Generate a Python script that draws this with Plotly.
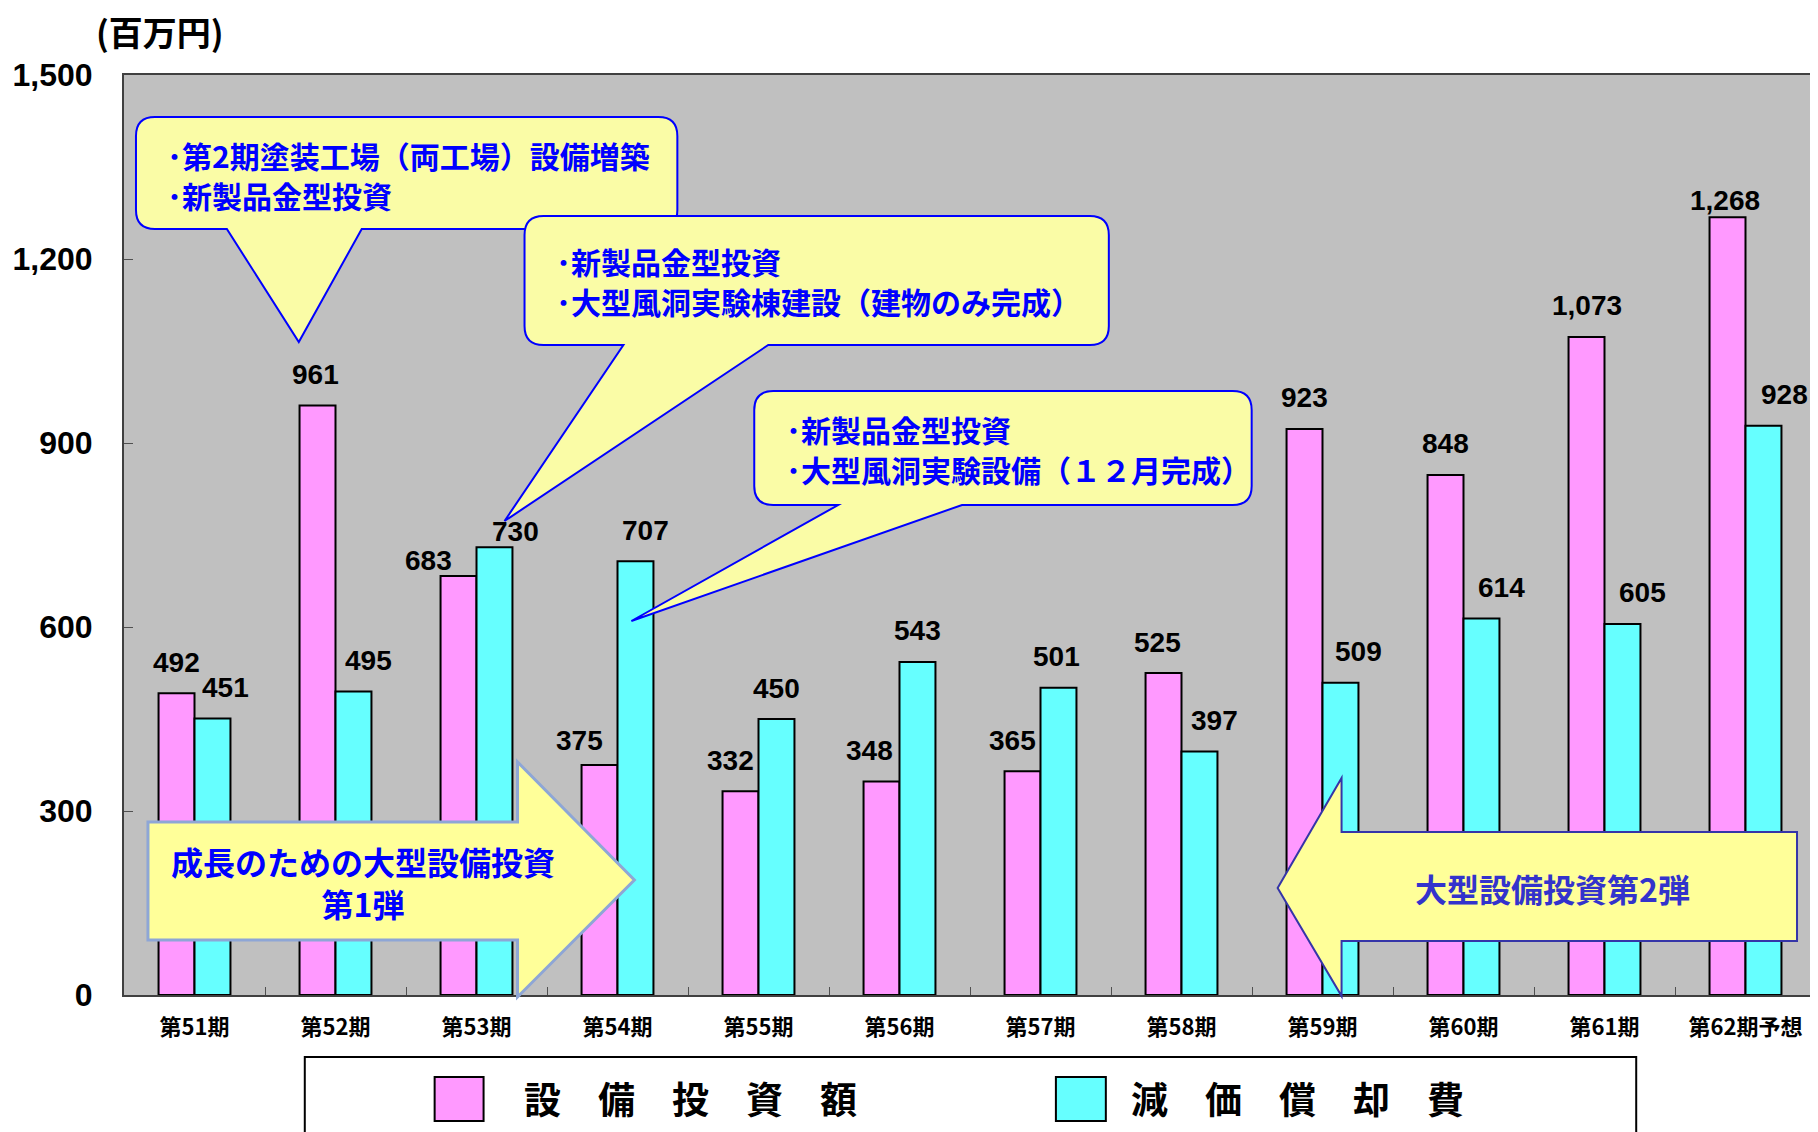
import plotly.graph_objects as go

# ---------------- data ----------------
categories = ["第51期", "第52期", "第53期", "第54期", "第55期", "第56期",
              "第57期", "第58期", "第59期", "第60期", "第61期", "第62期予想"]
capex = [492, 961, 683, 375, 332, 348, 365, 525, 923, 848, 1073, 1268]
depreciation = [451, 495, 730, 707, 450, 543, 501, 397, 509, 614, 605, 928]
series_names = ["設備投資額", "減価償却費"]
y_ticks = [0, 300, 600, 900, 1200, 1500]
unit_label = "(百万円)"

callout1_lines = ["･第2期塗装工場（両工場）設備増築", "･新製品金型投資"]
callout2_lines = ["･新製品金型投資", "･大型風洞実験棟建設（建物のみ完成）"]
callout3_lines = ["･新製品金型投資", "･大型風洞実験設備（１２月完成）"]
arrow1_lines = ["成長のための大型設備投資", "第1弾"]
arrow2_text = "大型設備投資第2弾"

# ---------------- style ----------------
PINK = "#FF99FF"
CYAN = "#66FFFF"
BG = "#C0C0C0"
BALLOON = "#FAFCA6"
ARROW_FILL = "#FFFF99"
NUM_FONT = "Liberation Sans, Arial, Noto Sans CJK JP"
JP_FONT = "Noto Sans CJK JP, Noto Sans, sans-serif"

# label nudges (pixels) as placed in the original chart
capex_label_dx = [0, -2, -30, -20, -10, -12, -10, -6, 0, 0, 0, -3]
dep_label_dx = [13, 15, 21, 10, 0, 0, -2, 15, 18, 20, 20, 21]
capex_label_dy = [31, 31, 16, 25, 31, 31, 31, 31, 31, 31, 31, 17]
dep_label_dy = [31, 31, 16, 31, 31, 31, 31, 31, 31, 31, 31, 31]

# page offset of the browser body margin
OFF = 8
IMG_W, IMG_H = 1818, 1132
W, H = IMG_W - OFF, IMG_H - OFF
# plot area in screenshot pixels
L, R, T, B = 124, 1818, 75, 995
BARGAP = 0.49


def px(x):
    return (x - L) / (R - L)


def py(y):
    return (B - y) / (B - T)


def balloon_path(x0, y0, x1, y1, tx0, tx1, tipx, tipy, r=19):
    def p(x, y):
        return f"{px(x):.5f},{py(y):.5f}"
    d = (f"M {p(x0 + r, y0)} L {p(x1 - r, y0)} Q {p(x1, y0)} {p(x1, y0 + r)} "
         f"L {p(x1, y1 - r)} Q {p(x1, y1)} {p(x1 - r, y1)} "
         f"L {p(tx1, y1)} L {p(tipx, tipy)} L {p(tx0, y1)} "
         f"L {p(x0 + r, y1)} Q {p(x0, y1)} {p(x0, y1 - r)} "
         f"L {p(x0, y0 + r)} Q {p(x0, y0)} {p(x0 + r, y0)} Z")
    return d


def poly_path(pts):
    return "M " + " L ".join(f"{px(x):.5f},{py(y):.5f}" for x, y in pts) + " Z"


fig = go.Figure()
fig.add_trace(go.Bar(x=categories, y=capex, name=series_names[0],
                     marker=dict(color=PINK, line=dict(color="black", width=2)),
                     showlegend=False, hoverinfo="x+y"))
fig.add_trace(go.Bar(x=categories, y=depreciation, name=series_names[1],
                     marker=dict(color=CYAN, line=dict(color="black", width=2)),
                     showlegend=False, hoverinfo="x+y"))

shapes = []
annotations = []

# balloons
balloons = [
    (136, 117, 678, 229, 227, 362, 299, 342, callout1_lines, 165, 175),
    (525, 216, 1110, 345, 624, 769, 505, 521, callout2_lines, 555, 281),
    (755, 391, 1253, 505, 839, 963, 632, 621, callout3_lines, 785, 449),
]
LINE_GAP = 40
for (x0, y0, x1, y1, tx0, tx1, tipx, tipy, lines, tx, ty) in balloons:
    shapes.append(dict(type="path", xref="paper", yref="paper",
                       path=balloon_path(x0, y0, x1, y1, tx0, tx1, tipx, tipy),
                       fillcolor=BALLOON, line=dict(color="#0000FF", width=2), layer="above"))
    for k, line in enumerate(lines):
        ly = ty + (k - (len(lines) - 1) / 2) * LINE_GAP
        annotations.append(dict(xref="paper", yref="paper", x=px(tx), y=py(ly),
                                xanchor="left", yanchor="middle", align="left",
                                text=line, showarrow=False,
                                font=dict(family=JP_FONT, size=30, color="#0000FF", weight="bold")))

# arrows
shapes.append(dict(type="path", xref="paper", yref="paper",
                   path=poly_path([(148, 822), (518, 822), (518, 762), (635, 880),
                                   (518, 997), (518, 940), (148, 940)]),
                   fillcolor=ARROW_FILL, line=dict(color="#8EA6D6", width=3), layer="above"))
annotations.append(dict(xref="paper", yref="paper", x=px(363), y=py(882),
                        xanchor="center", yanchor="middle", align="center",
                        text="<br>".join(arrow1_lines), showarrow=False,
                        font=dict(family=JP_FONT, size=32, color="#0000FF", weight="bold")))
shapes.append(dict(type="path", xref="paper", yref="paper",
                   path=poly_path([(1799, 832), (1343, 832), (1343, 778), (1279, 888),
                                   (1343, 996), (1343, 941), (1799, 941)]),
                   fillcolor=ARROW_FILL, line=dict(color="#3535A8", width=2), layer="above"))
annotations.append(dict(xref="paper", yref="paper", x=px(1554), y=py(888),
                        xanchor="center", yanchor="middle",
                        text=arrow2_text, showarrow=False,
                        font=dict(family=JP_FONT, size=32, color="#3333CC", weight="bold")))

# data labels
w = (1 - BARGAP) / 2
for i in range(len(categories)):
    for off, v, dx, dy in ((-w / 2, capex[i], capex_label_dx[i], capex_label_dy[i]),
                           (w / 2, depreciation[i], dep_label_dx[i], dep_label_dy[i])):
        annotations.append(dict(xref="x", yref="y", x=i + off, y=v,
                                xanchor="center", yanchor="middle", xshift=dx, yshift=dy,
                                text=f"{v:,}", showarrow=False,
                                font=dict(family=NUM_FONT, size=28, color="black", weight="bold")))

# unit label
annotations.append(dict(xref="paper", yref="paper", x=px(160), y=py(32),
                        xanchor="center", yanchor="middle", text=unit_label, showarrow=False,
                        font=dict(family=JP_FONT, size=34, color="black", weight="bold")))

# manual legend
shapes.append(dict(type="rect", xref="paper", yref="paper",
                   x0=px(305), x1=px(1638), y0=py(1057), y1=py(1145),
                   fillcolor="white", line=dict(color="black", width=2), layer="above"))
legend_items = [(435, 484, 522, PINK, series_names[0]), (1057, 1107, 1130, CYAN, series_names[1])]
for (sx0, sx1, tx, col, name) in legend_items:
    shapes.append(dict(type="rect", xref="paper", yref="paper",
                       x0=px(sx0), x1=px(sx1), y0=py(1077), y1=py(1121),
                       fillcolor=col, line=dict(color="black", width=2), layer="above"))
    annotations.append(dict(xref="paper", yref="paper", x=px(tx), y=py(1098),
                            xanchor="left", yanchor="middle", text="　".join(list(name)),
                            showarrow=False,
                            font=dict(family=JP_FONT, size=37, color="black", weight="bold")))

fig.update_layout(
    width=W, height=H,
    margin=dict(l=L - OFF, r=IMG_W - R, t=T - OFF, b=IMG_H - B, pad=0),
    paper_bgcolor="white",
    plot_bgcolor=BG,
    barmode="group",
    bargap=BARGAP,
    bargroupgap=0,
    shapes=shapes,
    annotations=annotations,
    showlegend=False,
)
fig.update_xaxes(
    type="category",
    showgrid=False,
    showline=True, linecolor="#404040", linewidth=2, mirror=True,
    ticks="inside", tickson="boundaries", ticklen=8, tickcolor="#505050",
    tickfont=dict(family=JP_FONT, size=22, color="black", weight="bold"),
    ticklabelstandoff=12,
)
fig.update_yaxes(
    range=[0, 1500],
    tickvals=y_ticks,
    tickformat=",",
    showgrid=False, zeroline=False,
    showline=True, linecolor="#404040", linewidth=2, mirror=True,
    ticks="inside", ticklen=9, tickcolor="#505050",
    tickfont=dict(family=NUM_FONT, size=32, color="black", weight="bold"),
    ticklabelstandoff=23,
)

fig.write_html("out.html")
